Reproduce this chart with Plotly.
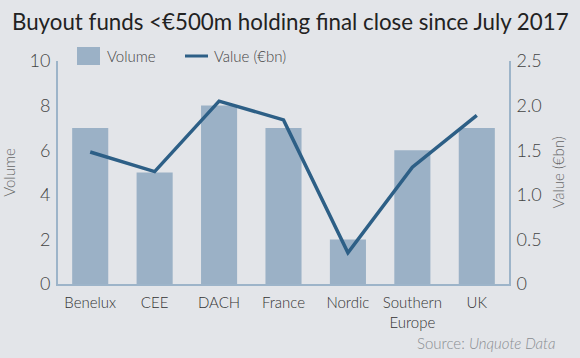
import plotly.graph_objects as go

categories = ["Benelux", "CEE", "DACH", "France", "Nordic", "Southern<br>Europe", "UK"]
volume = [7, 5, 8, 7, 2, 6, 7]
value_bn = [1.48, 1.26, 2.05, 1.84, 0.35, 1.31, 1.89]
left_ticks = [0, 2, 4, 6, 8, 10]
right_ticks = [0, 0.5, 1.0, 1.5, 2.0, 2.5]
right_labels = ["0", "0.5", "1.0", "1.5", "2.0", "2.5"]

FONT = "Lato, 'Open Sans', sans-serif"
BG = "#e3e5e9"
BAR = "#9bb1c6"
LINE = "#2d5f86"
AXIS = "#9db4c9"

fig = go.Figure()
fig.add_trace(go.Bar(x=categories, y=volume, name="Volume", marker_color=BAR,
                     marker_line_width=0, width=0.56, yaxis="y", showlegend=False))
fig.add_trace(go.Scatter(x=categories, y=value_bn, name="Value (€bn)", mode="lines",
                         line=dict(color=LINE, width=3.5), yaxis="y2", showlegend=False))

fig.update_layout(
    width=580, height=358,
    paper_bgcolor=BG, plot_bgcolor=BG,
    margin=dict(l=58, r=71, t=61, b=74, autoexpand=False),
    font=dict(family=FONT, color="#444444", size=15, weight=300),
    title=dict(text="Buyout funds <€500m holding final close since July 2017",
               x=12 / 580, xanchor="left", y=1 - 22 / 358, yanchor="middle",
               font=dict(family=FONT, size=22.3, color="#222222", weight=400)),
    showlegend=False,
    xaxis=dict(showgrid=False, showline=True, linecolor=AXIS, linewidth=2,
               ticks="", tickfont=dict(size=15, color="#333333", weight=300),
               ticklabelstandoff=4, zeroline=False, automargin=False),
    yaxis=dict(range=[0, 10], tickvals=left_ticks, showgrid=False, showline=True,
               linecolor=AXIS, linewidth=2, ticks="", zeroline=False, automargin=False,
               tickfont=dict(size=18, color="#444444", weight=300), ticklabelstandoff=2,
               title=dict(text="Volume", font=dict(size=15, color="#666666", weight=300),
                          standoff=12)),
    yaxis2=dict(range=[0, 2.5], tickvals=right_ticks, ticktext=right_labels,
                overlaying="y", side="right", showgrid=False, showline=True,
                linecolor=AXIS, linewidth=2, ticks="", zeroline=False, automargin=False,
                tickfont=dict(size=18, color="#444444", weight=300), ticklabelstandoff=2,
                title=dict(text="Value (€bn)", font=dict(size=15, color="#666666", weight=300),
                           standoff=13)),
)

# manual legend
W, H = 580, 358
pl, pr, pt, pb = 58, 71, 61, 74
pw, ph = W - pl - pr, H - pt - pb
def px(x):
    return (x - pl) / pw
def py(y):
    return (H - pb - y) / ph

fig.add_shape(type="rect", xref="paper", yref="paper",
              x0=px(77), x1=px(100), y0=py(65), y1=py(47),
              fillcolor=BAR, line_width=0)
fig.add_annotation(text="Volume", xref="paper", yref="paper", x=px(105), y=py(56),
                   xanchor="left", yanchor="middle", showarrow=False,
                   font=dict(size=15, color="#444444", weight=300))
fig.add_shape(type="line", xref="paper", yref="paper",
              x0=px(185), x1=px(208), y0=py(56), y1=py(56),
              line=dict(color=LINE, width=3))
fig.add_annotation(text="Value (€bn)", xref="paper", yref="paper", x=px(212), y=py(56),
                   xanchor="left", yanchor="middle", showarrow=False,
                   font=dict(size=15, color="#444444", weight=300))

fig.add_annotation(text="Source: <i>Unquote Data</i>", xref="paper", yref="paper",
                   x=px(558), y=py(343), xanchor="right", yanchor="middle",
                   showarrow=False, font=dict(size=15, color="#8a8d92", weight=300))

fig.write_html("out.html", config={"displayModeBar": False},
               post_script="document.body.style.margin='0';document.body.style.overflow='hidden';")
